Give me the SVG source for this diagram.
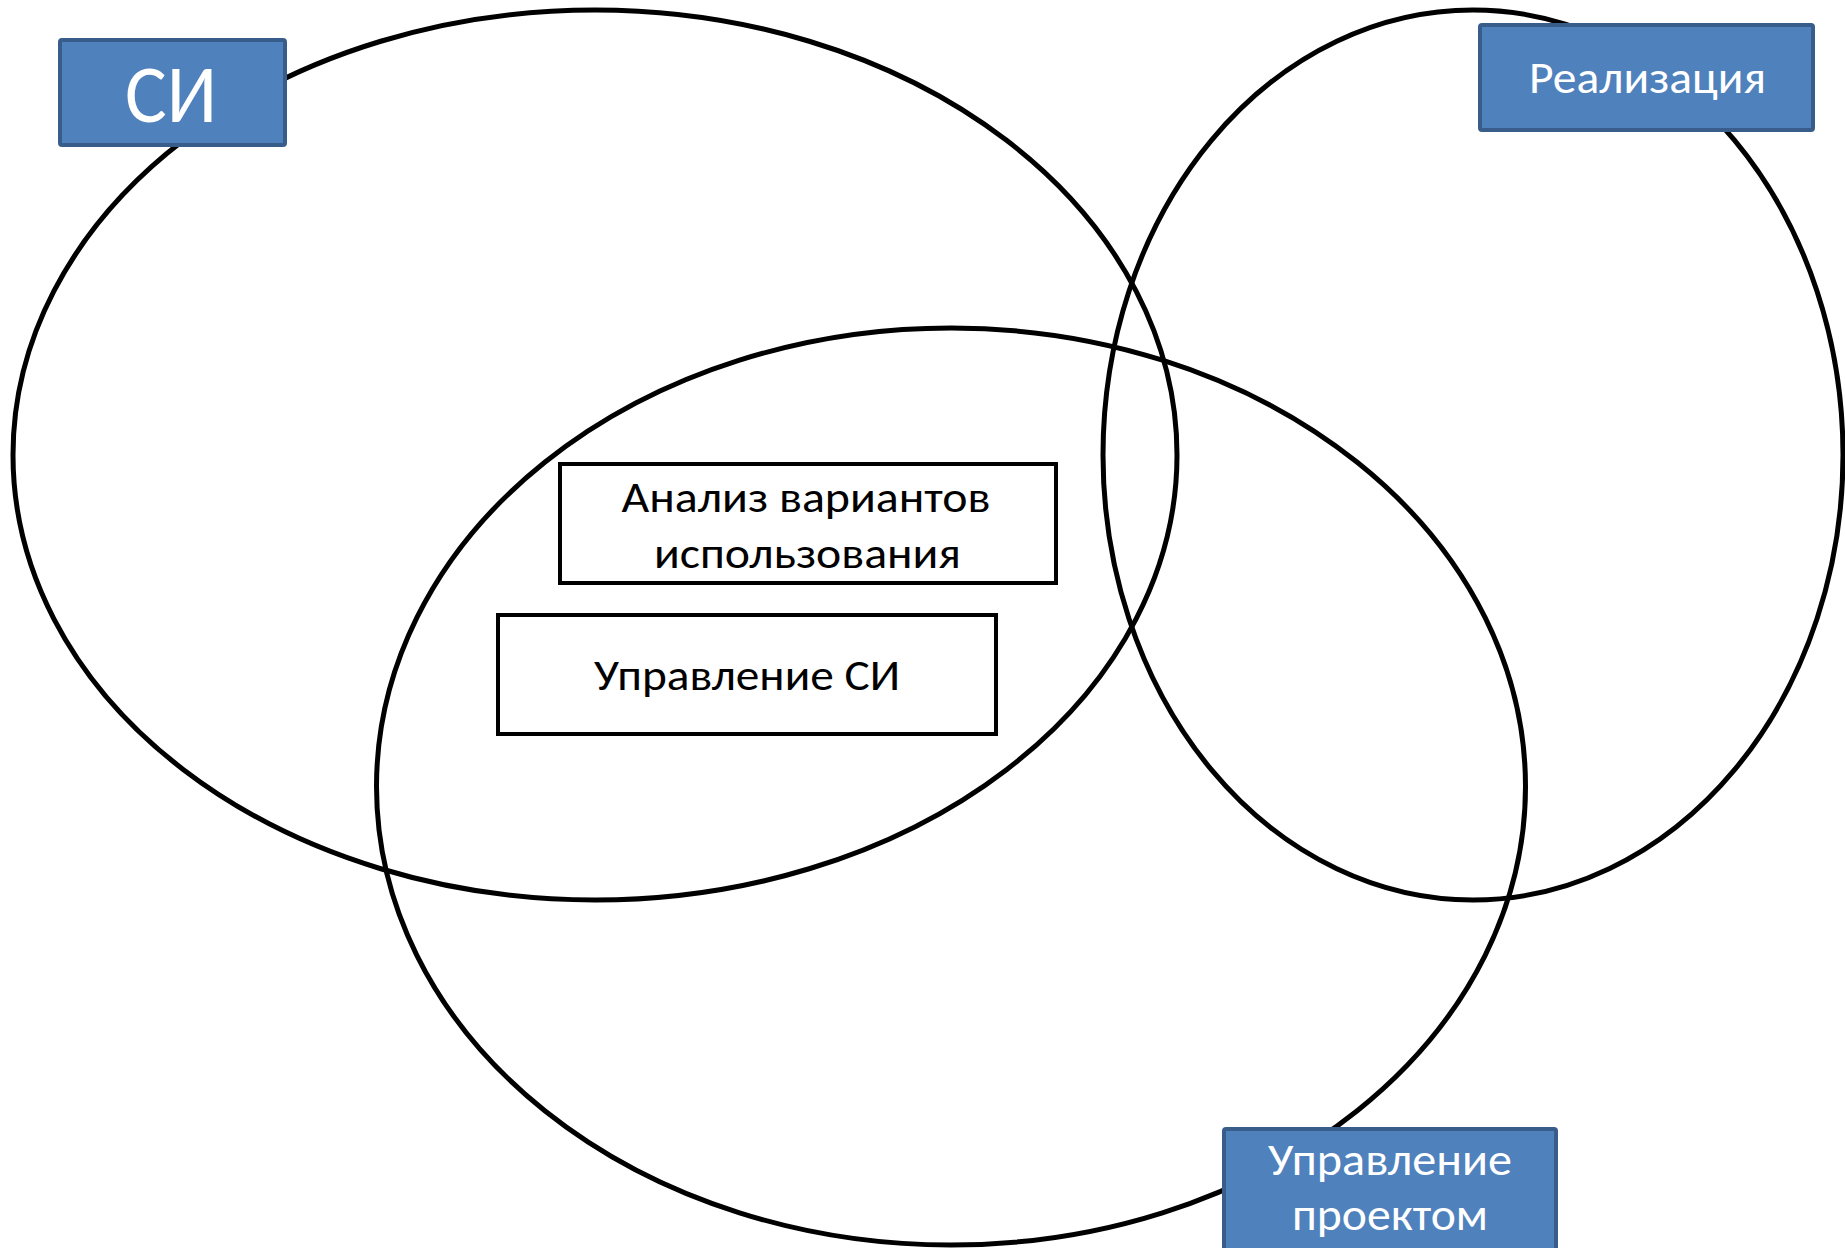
<svg xmlns="http://www.w3.org/2000/svg" width="1845" height="1248" viewBox="0 0 1845 1248">
<style>
.ell{fill:none;stroke:#000;stroke-width:5}
.blue{fill:#4F81BD;stroke:#385D8A;stroke-width:4}
.box{fill:#fff;stroke:#000;stroke-width:4}
.wt{font-family:Carlito,Lato,"Open Sans",sans-serif;fill:#fff;text-anchor:middle}
.bt{font-family:Carlito,Lato,"Open Sans",sans-serif;fill:#000;text-anchor:middle}
</style>
<rect width="1845" height="1248" fill="#fff"/>
<g id="connectors">
<ellipse id="ell-si" class="ell" cx="595" cy="455" rx="582" ry="445"/>
<ellipse id="ell-real" class="ell" cx="1473" cy="455" rx="370" ry="445"/>
<ellipse id="ell-pm" class="ell" cx="951" cy="786.5" rx="574.5" ry="458.5"/>
</g>
<g id="node-si">
<rect class="blue" x="60" y="40" width="225" height="105" rx="2"/>
<text class="wt" x="171" y="122" font-size="82" textLength="92" lengthAdjust="spacingAndGlyphs">СИ</text>
</g>
<g id="node-real">
<rect class="blue" x="1480" y="25" width="333" height="105" rx="2"/>
<text class="wt" x="1647.5" y="93" font-size="45" textLength="237" lengthAdjust="spacingAndGlyphs">Реализация</text>
</g>
<g id="node-pm">
<rect class="blue" x="1224" y="1129" width="332" height="130" rx="2"/>
<text class="wt" x="1390" y="1175" font-size="45" textLength="244" lengthAdjust="spacingAndGlyphs">Управление</text>
<text class="wt" x="1390" y="1230" font-size="45" textLength="196" lengthAdjust="spacingAndGlyphs">проектом</text>
</g>
<g id="node-analysis">
<rect class="box" x="560" y="464" width="496" height="119"/>
<text class="bt" x="806" y="512" font-size="44" textLength="369" lengthAdjust="spacingAndGlyphs">Анализ вариантов</text>
<text class="bt" x="807.5" y="568" font-size="44" textLength="307" lengthAdjust="spacingAndGlyphs">использования</text>
</g>
<g id="node-cm">
<rect class="box" x="498" y="615" width="498" height="119"/>
<text class="bt" x="747" y="690" font-size="44" textLength="306" lengthAdjust="spacingAndGlyphs">Управление СИ</text>
</g>
</svg>
